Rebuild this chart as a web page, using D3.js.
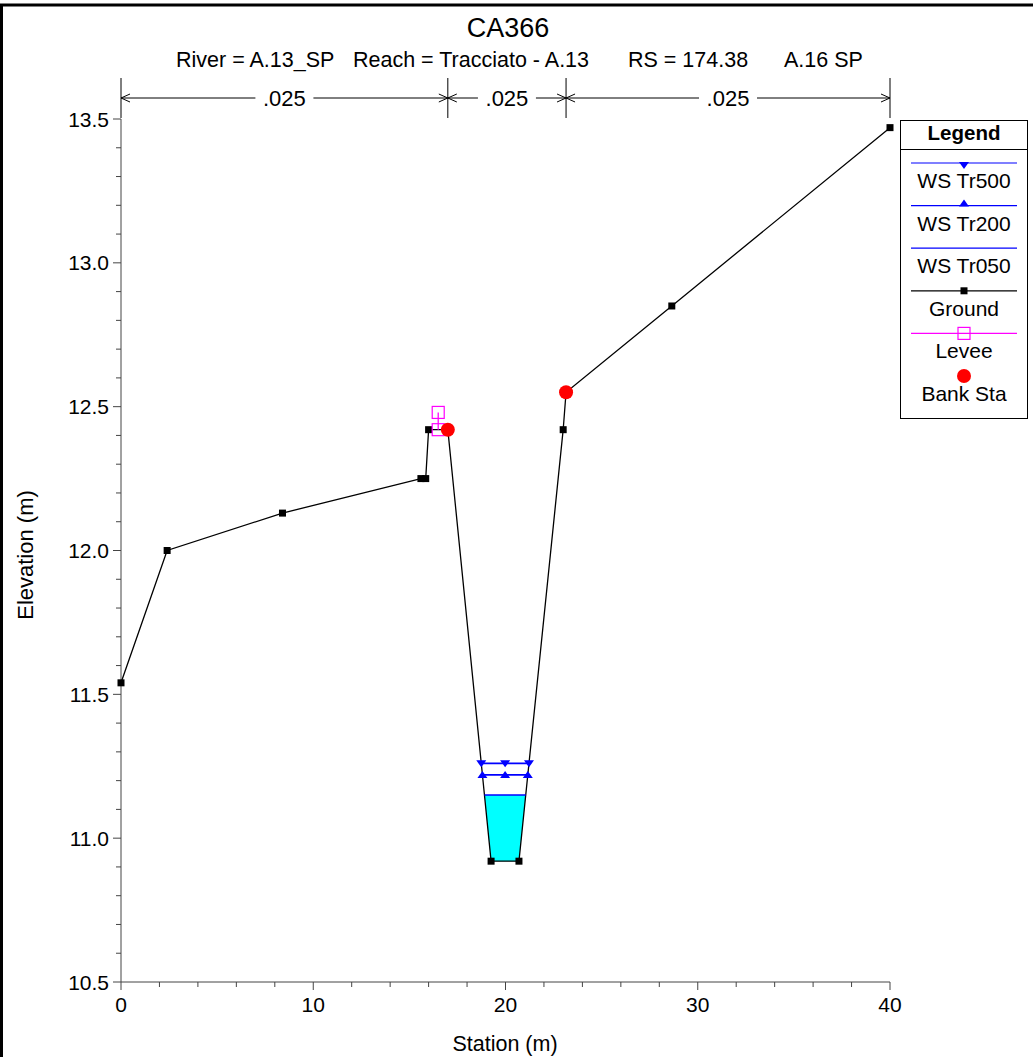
<!DOCTYPE html>
<html><head><meta charset="utf-8">
<script src="https://cdn.jsdelivr.net/npm/d3@7"></script>
<style>
body{margin:0;background:#fff;}
text{font-family:Arial,"Liberation Sans",sans-serif;}
</style></head>
<body>
<svg id="chart" width="1033" height="1057"></svg>
<script>
// ---- data ----
const title = "CA366";
const subtitleParts = ["River = A.13_SP", "Reach = Tracciato - A.13", "RS = 174.38", "A.16 SP"];
const groundSta  = [0, 2.4, 8.4, 15.6, 15.85, 16.0, 17.0, 19.25, 20.7, 23.0, 23.15, 28.65, 40];
const groundElev = [11.54, 12.00, 12.13, 12.25, 12.25, 12.42, 12.42, 10.92, 10.92, 12.42, 12.55, 12.85, 13.47];
const bankSta = [17.0, 23.15];
const leveeSta = [16.5, 16.5];
const leveeElev = [12.48, 12.42];
const wsNames = ["WS Tr500", "WS Tr200", "WS Tr050"];
const wsElev = [11.26, 11.22, 11.15];
const nBreaks = [0, 17.0, 23.15, 40];
const nValues = [".025", ".025", ".025"];
const xTicks = [0, 10, 20, 30, 40];
const yTicks = [10.5, 11.0, 11.5, 12.0, 12.5, 13.0, 13.5];
const legendItems = ["WS Tr500", "WS Tr200", "WS Tr050", "Ground", "Levee", "Bank Sta"];

// ---- setup ----
const svg = d3.select("#chart");
const x = d3.scaleLinear().domain([0, 40]).range([121, 890]);
const y = d3.scaleLinear().domain([10.5, 13.5]).range([982, 119]);
const ground = groundSta.map((s, i) => [s, groundElev[i]]);
const groundAt = s => { for (let i = 0; i < ground.length - 1; i++) { const [a, ea] = ground[i], [b, eb] = ground[i + 1]; if (s >= a && s <= b) return b === a ? ea : ea + (eb - ea) * (s - a) / (b - a); } return null; };
const axisColor = "#444";

// frame
svg.append("line").attr("x1", 0).attr("x2", 1033).attr("y1", 5).attr("y2", 5).attr("stroke", "#000").attr("stroke-width", 3);
svg.append("line").attr("x1", 1.5).attr("x2", 1.5).attr("y1", 5).attr("y2", 1057).attr("stroke", "#000").attr("stroke-width", 3);

// titles
svg.append("text").attr("x", 508).attr("y", 37).attr("text-anchor", "middle").attr("font-size", 27).text(title);
const subX = [176, 353, 628, 784];
subtitleParts.forEach((t, i) => svg.append("text").attr("x", subX[i]).attr("y", 67).attr("font-size", 21.5).text(t));

// axes
const gx = svg.append("g").attr("transform", "translate(0,982)");
gx.append("line").attr("x1", x(0)).attr("x2", x(40)).attr("stroke", axisColor);
d3.range(0, 40.001, 2).forEach(v => {
  const major = xTicks.includes(v);
  gx.append("line").attr("x1", x(v)).attr("x2", x(v)).attr("y1", 0).attr("y2", major ? 8 : 5).attr("stroke", axisColor);
});
xTicks.forEach(v => gx.append("text").attr("x", x(v)).attr("y", 30).attr("text-anchor", "middle").attr("font-size", 21).text(v));

const gy = svg.append("g").attr("transform", "translate(121,0)");
gy.append("line").attr("y1", y(10.5)).attr("y2", y(13.5)).attr("stroke", axisColor);
d3.range(105, 135.1, 1).forEach(k => {
  const v = k / 10, major = k % 5 === 0;
  gy.append("line").attr("y1", y(v)).attr("y2", y(v)).attr("x1", 0).attr("x2", major ? -8 : -5).attr("stroke", axisColor);
});
yTicks.forEach(v => gy.append("text").attr("x", -12).attr("y", y(v) + 7.5).attr("text-anchor", "end").attr("font-size", 21).text(d3.format(".1f")(v)));

svg.append("text").attr("x", 505).attr("y", 1051).attr("text-anchor", "middle").attr("font-size", 21.5).text("Station (m)");
svg.append("text").attr("transform", "translate(33,555) rotate(-90)").attr("text-anchor", "middle").attr("font-size", 22).text("Elevation (m)");

// Manning's n annotation
const ny = 98;
nBreaks.forEach(b => svg.append("line").attr("x1", x(b)).attr("x2", x(b)).attr("y1", 78).attr("y2", 118).attr("stroke", "#000"));
nValues.forEach((v, i) => {
  const a = x(nBreaks[i]), b = x(nBreaks[i + 1]), m = (a + b) / 2;
  const half = v.length * 6 + 5;
  svg.append("line").attr("x1", a).attr("x2", m - half).attr("y1", ny).attr("y2", ny).attr("stroke", "#000");
  svg.append("line").attr("x1", m + half).attr("x2", b).attr("y1", ny).attr("y2", ny).attr("stroke", "#000");
  svg.append("path").attr("d", `M${a + 9},${ny - 4}L${a},${ny}L${a + 9},${ny + 4}`).attr("fill", "none").attr("stroke", "#000");
  svg.append("path").attr("d", `M${b - 9},${ny - 4}L${b},${ny}L${b - 9},${ny + 4}`).attr("fill", "none").attr("stroke", "#000");
  svg.append("text").attr("x", m).attr("y", ny + 8).attr("text-anchor", "middle").attr("font-size", 22).text(v);
});

// water surface extents (intersection with ground in main channel)
function wsExtent(e) {
  const lo = d3.minIndex(ground, d => d[1]);
  let xl = null, xr = null;
  for (let i = lo; i > 0; i--) { const [a, ea] = ground[i - 1], [b, eb] = ground[i]; if (ea >= e && eb <= e) { xl = a + (b - a) * (ea - e) / (ea - eb); break; } }
  for (let i = lo; i < ground.length - 1; i++) { const [a, ea] = ground[i], [b, eb] = ground[i + 1]; if (ea <= e && eb >= e) { xr = a + (b - a) * (e - ea) / (eb - ea); break; } }
  return [xl, xr];
}

// fill for lowest WS (Tr050)
{
  const e = wsElev[2], [xl, xr] = wsExtent(e);
  const pts = [[xl, e], ...ground.filter(d => d[0] > xl && d[0] < xr), [xr, e]];
  svg.append("path").attr("d", d3.line().x(d => x(d[0])).y(d => y(d[1]))(pts) + "Z").attr("fill", "#00FFFF").attr("stroke", "none");
}

// ground line
svg.append("path").attr("d", d3.line().x(d => x(d[0])).y(d => y(d[1]))(ground)).attr("fill", "none").attr("stroke", "#000").attr("stroke-width", 1.3);

// WS lines
const triDown = (cx, cy) => `M${cx - 5},${cy - 3}L${cx + 5},${cy - 3}L${cx},${cy + 4}Z`;
const triUp = (cx, cy) => `M${cx - 5},${cy + 3}L${cx + 5},${cy + 3}L${cx},${cy - 4}Z`;
wsElev.forEach((e, i) => {
  const [xl, xr] = wsExtent(e);
  svg.append("line").attr("x1", x(xl)).attr("x2", x(xr)).attr("y1", y(e)).attr("y2", y(e)).attr("stroke", "#0000FF").attr("stroke-width", 1.6);
  if (i < 2) {
    [xl, (xl + xr) / 2, xr].forEach(s => svg.append("path").attr("d", (i === 0 ? triDown : triUp)(x(s), y(e))).attr("fill", "#0000FF"));
  }
});

// levee
svg.append("path").attr("d", d3.line().x(d => x(d[0])).y(d => y(d[1]))(leveeSta.map((s, i) => [s, leveeElev[i]]))).attr("stroke", "#FF00FF").attr("stroke-width", 1.3).attr("fill", "none");

// ground markers
ground.forEach(d => svg.append("rect").attr("x", x(d[0]) - 3.5).attr("y", y(d[1]) - 3.5).attr("width", 7).attr("height", 7).attr("fill", "#000"));

// levee markers
leveeSta.forEach((s, i) => svg.append("rect").attr("x", x(s) - 6).attr("y", y(leveeElev[i]) - 6).attr("width", 12).attr("height", 12).attr("fill", "none").attr("stroke", "#FF00FF").attr("stroke-width", 1.2));

// bank stations
bankSta.forEach(s => svg.append("circle").attr("cx", x(s)).attr("cy", y(groundAt(s))).attr("r", 7).attr("fill", "#FF0000"));

// legend
const lg = svg.append("g");
lg.append("rect").attr("x", 900.5).attr("y", 120.5).attr("width", 127).attr("height", 298).attr("fill", "#fff").attr("stroke", "#000");
lg.append("text").attr("x", 964).attr("y", 140).attr("text-anchor", "middle").attr("font-size", 20.5).attr("font-weight", "bold").text("Legend");
lg.append("line").attr("x1", 900.5).attr("x2", 1027.5).attr("y1", 149.5).attr("y2", 149.5).attr("stroke", "#000");
legendItems.forEach((name, i) => {
  const ly = 163 + i * 42.6, cx = 964;
  if (i < 5) {
    const col = i < 3 ? "#0000FF" : (i === 3 ? "#000" : "#FF00FF");
    lg.append("line").attr("x1", 911).attr("x2", 1017).attr("y1", ly).attr("y2", ly).attr("stroke", col).attr("stroke-width", 1.2);
  }
  if (i === 0) lg.append("path").attr("d", `M${cx - 5},${ly - 1}L${cx + 5},${ly - 1}L${cx},${ly + 6}Z`).attr("fill", "#0000FF");
  if (i === 1) lg.append("path").attr("d", `M${cx - 5},${ly + 1}L${cx + 5},${ly + 1}L${cx},${ly - 6}Z`).attr("fill", "#0000FF");
  if (i === 3) lg.append("rect").attr("x", cx - 3.5).attr("y", ly - 3.5).attr("width", 7).attr("height", 7).attr("fill", "#000");
  if (i === 4) lg.append("rect").attr("x", cx - 6).attr("y", ly - 6).attr("width", 12).attr("height", 12).attr("fill", "none").attr("stroke", "#FF00FF").attr("stroke-width", 1.2);
  if (i === 5) lg.append("circle").attr("cx", cx).attr("cy", ly - 0).attr("r", 7).attr("fill", "#FF0000");
  lg.append("text").attr("x", cx).attr("y", ly + 25).attr("text-anchor", "middle").attr("font-size", 21).text(name);
});
</script>
</body></html>
